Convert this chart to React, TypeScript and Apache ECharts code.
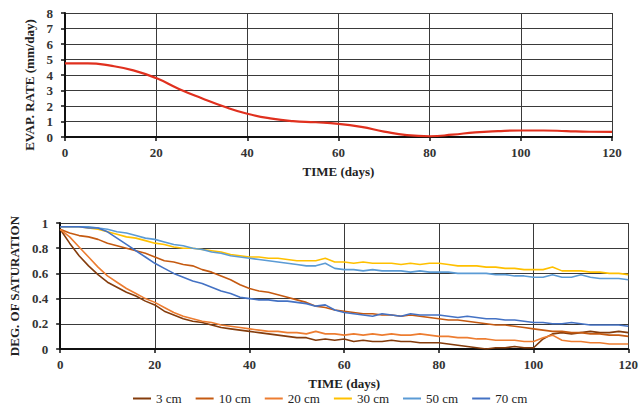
import React, { useEffect, useRef } from "react";
import * as echarts from "echarts";

// ---- Top chart: evaporation rate ----
const evapDays = [0, 5, 10, 15, 20, 25, 30, 35, 40, 45, 50, 55, 60, 65, 70, 75, 80, 85, 90, 95, 100, 105, 110, 115, 120];
const evapRate = [4.75, 4.75, 4.6, 4.3, 3.8, 3.1, 2.5, 1.95, 1.5, 1.2, 1.02, 0.95, 0.85, 0.65, 0.35, 0.12, 0.05, 0.15, 0.3, 0.38, 0.42, 0.42, 0.38, 0.34, 0.33];

// ---- Bottom chart: degree of saturation ----
const satDays = [0, 2, 4, 6, 8, 10, 12, 14, 16, 18, 20, 22, 24, 26, 28, 30, 32, 34, 36, 38, 40, 42, 44, 46, 48, 50, 52, 54, 56, 58, 60, 62, 64, 66, 68, 70, 72, 74, 76, 78, 80, 82, 84, 86, 88, 90, 92, 94, 96, 98, 100, 102, 104, 106, 108, 110, 112, 114, 116, 118, 120];

const sat3cm = [0.95, 0.84, 0.74, 0.66, 0.59, 0.53, 0.49, 0.45, 0.42, 0.38, 0.35, 0.30, 0.27, 0.24, 0.22, 0.21, 0.19, 0.17, 0.16, 0.15, 0.14, 0.13, 0.12, 0.11, 0.10, 0.09, 0.09, 0.07, 0.08, 0.07, 0.08, 0.06, 0.07, 0.06, 0.06, 0.07, 0.06, 0.06, 0.05, 0.05, 0.05, 0.04, 0.03, 0.02, 0.01, 0.00, 0.01, 0.01, 0.02, 0.01, 0.01, 0.08, 0.12, 0.13, 0.12, 0.13, 0.14, 0.13, 0.13, 0.14, 0.13];
const sat10cm = [0.95, 0.92, 0.90, 0.89, 0.87, 0.84, 0.82, 0.80, 0.78, 0.76, 0.73, 0.70, 0.69, 0.67, 0.66, 0.63, 0.61, 0.58, 0.55, 0.51, 0.48, 0.46, 0.45, 0.43, 0.41, 0.39, 0.37, 0.34, 0.33, 0.31, 0.30, 0.29, 0.28, 0.28, 0.27, 0.27, 0.26, 0.27, 0.26, 0.25, 0.24, 0.23, 0.23, 0.22, 0.21, 0.20, 0.19, 0.19, 0.18, 0.17, 0.16, 0.15, 0.14, 0.14, 0.13, 0.13, 0.12, 0.12, 0.11, 0.11, 0.10];
const sat20cm = [0.95, 0.89, 0.81, 0.73, 0.65, 0.58, 0.53, 0.48, 0.44, 0.40, 0.37, 0.33, 0.29, 0.26, 0.24, 0.22, 0.21, 0.19, 0.18, 0.17, 0.16, 0.15, 0.14, 0.14, 0.13, 0.13, 0.12, 0.14, 0.12, 0.12, 0.11, 0.12, 0.11, 0.12, 0.11, 0.12, 0.11, 0.11, 0.12, 0.11, 0.10, 0.10, 0.09, 0.09, 0.08, 0.08, 0.07, 0.07, 0.07, 0.06, 0.06, 0.09, 0.11, 0.07, 0.06, 0.06, 0.05, 0.05, 0.04, 0.04, 0.04];
const sat30cm = [0.97, 0.97, 0.97, 0.96, 0.95, 0.93, 0.91, 0.89, 0.88, 0.86, 0.84, 0.83, 0.81, 0.80, 0.80, 0.79, 0.78, 0.77, 0.75, 0.74, 0.73, 0.73, 0.72, 0.72, 0.71, 0.70, 0.70, 0.70, 0.72, 0.69, 0.69, 0.68, 0.69, 0.68, 0.68, 0.68, 0.67, 0.68, 0.67, 0.68, 0.68, 0.67, 0.66, 0.66, 0.66, 0.65, 0.65, 0.64, 0.64, 0.63, 0.63, 0.63, 0.65, 0.62, 0.62, 0.62, 0.61, 0.61, 0.60, 0.60, 0.59];
const sat50cm = [0.97, 0.97, 0.97, 0.97, 0.96, 0.95, 0.93, 0.92, 0.90, 0.88, 0.87, 0.85, 0.83, 0.82, 0.80, 0.79, 0.77, 0.76, 0.74, 0.73, 0.72, 0.71, 0.70, 0.69, 0.68, 0.67, 0.66, 0.66, 0.68, 0.64, 0.63, 0.63, 0.62, 0.63, 0.62, 0.62, 0.62, 0.61, 0.62, 0.61, 0.61, 0.61, 0.60, 0.60, 0.60, 0.60, 0.59, 0.59, 0.58, 0.58, 0.57, 0.57, 0.59, 0.57, 0.57, 0.59, 0.57, 0.56, 0.56, 0.56, 0.55];
const sat70cm = [0.97, 0.97, 0.97, 0.96, 0.96, 0.93, 0.88, 0.83, 0.78, 0.73, 0.68, 0.64, 0.60, 0.57, 0.54, 0.52, 0.49, 0.46, 0.44, 0.41, 0.40, 0.39, 0.39, 0.38, 0.38, 0.37, 0.36, 0.34, 0.35, 0.31, 0.29, 0.28, 0.27, 0.26, 0.28, 0.27, 0.26, 0.28, 0.27, 0.27, 0.27, 0.26, 0.25, 0.26, 0.25, 0.24, 0.24, 0.23, 0.23, 0.22, 0.21, 0.21, 0.20, 0.20, 0.21, 0.20, 0.19, 0.19, 0.19, 0.19, 0.18];

const seriesNames = ["3 cm", "10 cm", "20 cm", "30 cm", "50 cm", "70 cm"];
const seriesValues = [sat3cm, sat10cm, sat20cm, sat30cm, sat50cm, sat70cm];
const seriesColors = ["#843C0C", "#C55A11", "#ED7D31", "#FFC000", "#5B9BD5", "#4472C4"];

const FONT = "Liberation Serif";

export default function App() {
  const ref = useRef<HTMLDivElement>(null);
  useEffect(() => {
    if (!ref.current) return;
    const chart = echarts.init(ref.current, undefined, { renderer: "svg" });
    const labelStyle = { fontFamily: FONT, fontSize: 13, fontWeight: "bold" as const, color: "#333" };
    const nameStyle = { fontFamily: FONT, fontSize: 13, fontWeight: "bold" as const, color: "#222" };
    const splitLine = { show: true, lineStyle: { color: "#3a3a3a", width: 1 } };
    const axisLine = { show: true, lineStyle: { color: "#111", width: 2 } };
    const axisTick = { show: true, length: 4, lineStyle: { color: "#111", width: 1.5 } };

    chart.setOption({
      animation: false,
      backgroundColor: "#ffffff",
      grid: [
        { left: 65, right: 29, top: 13, height: 124 },
        { left: 57, right: 10, top: 223, height: 126 },
      ],
      xAxis: [
        {
          gridIndex: 0, type: "value", min: 0, max: 120, interval: 20,
          name: "TIME (days)", nameLocation: "middle", nameGap: 28, nameTextStyle: nameStyle,
          axisLabel: { ...labelStyle, margin: 9 }, axisLine, axisTick, splitLine,
        },
        {
          gridIndex: 1, type: "value", min: 0, max: 120, interval: 20,
          name: "TIME (days)", nameLocation: "middle", nameGap: 28, nameTextStyle: nameStyle,
          axisLabel: { ...labelStyle, margin: 9 }, axisLine, axisTick, splitLine,
        },
      ],
      yAxis: [
        {
          gridIndex: 0, type: "value", min: 0, max: 8, interval: 1,
          name: "EVAP. RATE (mm/day)", nameLocation: "middle", nameGap: 20,
          nameTextStyle: { ...nameStyle, padding: [0, 20, 0, 0] },
          axisLabel: { ...labelStyle, margin: 12 }, axisLine, axisTick, splitLine,
        },
        {
          gridIndex: 1, type: "value", min: 0, max: 1, interval: 0.2,
          name: "DEG. OF SATURATION", nameLocation: "middle", nameGap: 34, nameTextStyle: nameStyle,
          axisLabel: { ...labelStyle, margin: 12, formatter: (v: number) => (v === 0 || v === 1 ? String(v) : String(Math.round(v * 10) / 10)) },
          axisLine, axisTick, splitLine,
        },
      ],
      legend: {
        data: seriesNames,
        left: 133, top: 391, padding: 0,
        icon: "rect", itemWidth: 18, itemHeight: 2, itemGap: 14,
        textStyle: { fontFamily: FONT, fontSize: 13, color: "#222", lineHeight: 15 },
      },
      series: [
        {
          type: "line", xAxisIndex: 0, yAxisIndex: 0, smooth: true, showSymbol: false,
          data: evapDays.map((d, i) => [d, evapRate[i]]),
          lineStyle: { color: "#E0301E", width: 2.2 }, itemStyle: { color: "#E0301E" },
        },
        ...seriesNames.map((name, k) => ({
          name, type: "line", xAxisIndex: 1, yAxisIndex: 1, showSymbol: false,
          data: satDays.map((d, i) => [d, seriesValues[k][i]]),
          lineStyle: { color: seriesColors[k], width: 1.6 }, itemStyle: { color: seriesColors[k] },
        })),
      ],
    });
    return () => chart.dispose();
  }, []);
  return <div ref={ref} style={{ position: "absolute", left: 0, top: 0, width: 641, height: 408 }} />;
}
